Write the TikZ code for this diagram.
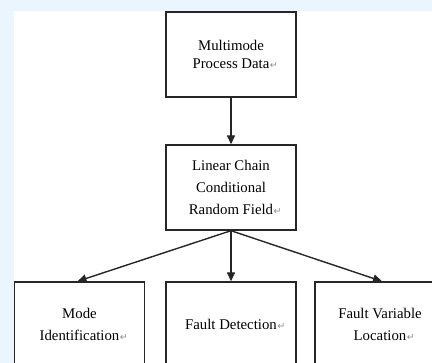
\documentclass[tikz,border=0pt]{standalone}
\usepackage{fontspec}
\setmainfont{Liberation Serif}
\newfontfamily\markfont{DejaVu Sans}
\usetikzlibrary{arrows.meta}
\definecolor{pagebg}{HTML}{EAF5FE}
\definecolor{boxline}{HTML}{262626}
\newcommand{\parmark}{\rlap{\kern0.5pt\textcolor{black!45}{\markfont\fontsize{9.5}{9.5}\selectfont ↵}}}
\tikzset{
  stage/.style={draw=boxline, line width=1.4pt, fill=white, minimum width=130pt,
    minimum height=85pt, inner sep=0pt, align=center,
    font=\fontsize{14.8}{22}\selectfont},
  flow/.style={draw=boxline, line width=1.4pt, -{Triangle[length=9pt,width=8pt]}}
}
\begin{document}
\begin{tikzpicture}[x=1pt,y=-1pt]
  \fill[pagebg] (0,0) rectangle (432,363);
  \fill[white] (14,11) rectangle (432,363);
  \clip (0,0) rectangle (432,363);

  \node[stage, font=\fontsize{14.8}{18.5}\selectfont] (data) at (231,54.5)
    {Multimode\\Process Data\parmark};
  \node[stage] (lcrf) at (231,187.5)
    {Linear Chain\\Conditional\\Random Field\parmark};
  \node[stage] (mode) at (79.5,324.5) {Mode\\Identification\parmark};
  \node[stage] (detect) at (231,324.5) {Fault Detection\parmark};
  \node[stage] (locate) at (380,324.5) {Fault Variable\\Location\parmark};

  \draw[flow] (data.south) -- (lcrf.north);
  \draw[flow] (lcrf.south) -- ([xshift=-2pt]mode.north);
  \draw[flow] (lcrf.south) -- (detect.north);
  \draw[flow] (lcrf.south) -- ([xshift=2pt]locate.north);
\end{tikzpicture}
\end{document}
